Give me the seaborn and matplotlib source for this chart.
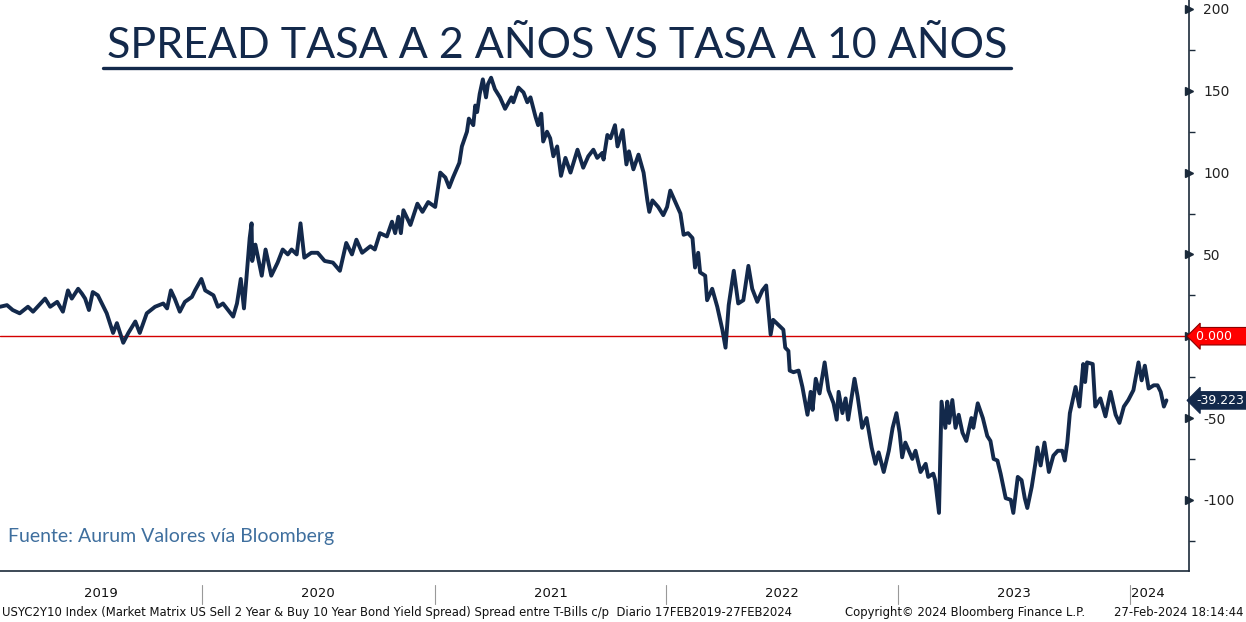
import pandas as pd
import numpy as np
import matplotlib.pyplot as plt
import matplotlib.dates as mdates
import matplotlib.transforms as mtransforms
from matplotlib.lines import Line2D
import seaborn as sns

# Datos (spread 10a - 2a, puntos basicos)
dates = [
    "2019-02-17", "2019-02-28", "2019-03-09", "2019-03-20", "2019-04-02", "2019-04-10", "2019-04-29",
    "2019-05-07", "2019-05-18", "2019-05-27", "2019-06-04", "2019-06-10", "2019-06-20", "2019-06-26",
    "2019-07-01", "2019-07-07", "2019-07-13", "2019-07-21", "2019-08-04", "2019-08-14", "2019-08-20",
    "2019-08-30", "2019-09-07", "2019-09-18", "2019-09-25", "2019-10-06", "2019-10-19", "2019-11-01",
    "2019-11-07", "2019-11-13", "2019-11-19", "2019-11-27", "2019-12-05", "2019-12-16", "2019-12-21",
    "2019-12-31", "2020-01-06", "2020-01-19", "2020-01-26", "2020-02-03", "2020-02-19", "2020-02-25",
    "2020-03-02", "2020-03-07", "2020-03-11", "2020-03-13", "2020-03-16", "2020-03-19", "2020-03-20",
    "2020-03-25", "2020-04-04", "2020-04-10", "2020-04-19", "2020-04-29", "2020-05-07", "2020-05-15",
    "2020-05-21", "2020-05-29", "2020-06-04", "2020-06-10", "2020-06-21", "2020-07-01", "2020-07-12",
    "2020-07-25", "2020-08-05", "2020-08-15", "2020-08-24", "2020-08-31", "2020-09-09", "2020-09-22",
    "2020-09-29", "2020-10-07", "2020-10-18", "2020-10-26", "2020-10-31", "2020-11-05", "2020-11-09",
    "2020-11-13", "2020-11-24", "2020-12-05", "2020-12-13", "2020-12-22", "2021-01-02", "2021-01-10",
    "2021-01-18", "2021-01-24", "2021-01-30", "2021-02-09", "2021-02-13", "2021-02-21", "2021-02-24",
    "2021-03-03", "2021-03-06", "2021-03-09", "2021-03-13", "2021-03-18", "2021-03-23", "2021-03-26",
    "2021-03-31", "2021-04-06", "2021-04-14", "2021-04-22", "2021-05-02", "2021-05-05", "2021-05-13",
    "2021-05-21", "2021-05-27", "2021-06-01", "2021-06-09", "2021-06-13", "2021-06-18", "2021-06-21",
    "2021-06-27", "2021-07-02", "2021-07-07", "2021-07-13", "2021-07-19", "2021-07-26", "2021-08-03",
    "2021-08-14", "2021-08-23", "2021-08-31", "2021-09-08", "2021-09-14", "2021-09-22", "2021-09-24",
    "2021-09-30", "2021-10-05", "2021-10-12", "2021-10-16", "2021-10-24", "2021-10-30", "2021-11-03",
    "2021-11-10", "2021-11-18", "2021-11-26", "2021-12-02", "2021-12-05", "2021-12-10", "2021-12-19",
    "2021-12-27", "2022-01-02", "2022-01-07", "2022-01-15", "2022-01-23", "2022-01-28", "2022-02-04",
    "2022-02-11", "2022-02-15", "2022-02-20", "2022-02-23", "2022-03-03", "2022-03-06", "2022-03-14",
    "2022-03-22", "2022-03-30", "2022-04-04", "2022-04-09", "2022-04-17", "2022-04-24", "2022-05-02",
    "2022-05-10", "2022-05-16", "2022-05-24", "2022-06-01", "2022-06-07", "2022-06-14", "2022-06-18",
    "2022-06-26", "2022-07-04", "2022-07-07", "2022-07-12", "2022-07-14", "2022-07-20", "2022-07-28",
    "2022-08-03", "2022-08-11", "2022-08-16", "2022-08-19", "2022-08-24", "2022-08-30", "2022-09-07",
    "2022-09-13", "2022-09-21", "2022-09-26", "2022-09-29", "2022-10-05", "2022-10-10", "2022-10-14",
    "2022-10-24", "2022-10-29", "2022-11-05", "2022-11-12", "2022-11-20", "2022-11-26", "2022-12-01",
    "2022-12-09", "2022-12-17", "2022-12-23", "2022-12-29", "2023-01-03", "2023-01-07", "2023-01-12",
    "2023-01-23", "2023-01-28", "2023-02-05", "2023-02-13", "2023-02-17", "2023-02-25", "2023-02-28",
    "2023-03-06", "2023-03-10", "2023-03-16", "2023-03-19", "2023-03-22", "2023-03-27", "2023-04-01",
    "2023-04-06", "2023-04-12", "2023-04-18", "2023-04-26", "2023-04-29", "2023-05-06", "2023-05-14",
    "2023-05-21", "2023-05-26", "2023-05-31", "2023-06-06", "2023-06-11", "2023-06-19", "2023-06-27",
    "2023-07-01", "2023-07-08", "2023-07-14", "2023-07-19", "2023-07-23", "2023-07-30", "2023-08-05",
    "2023-08-08", "2023-08-13", "2023-08-19", "2023-08-26", "2023-09-02", "2023-09-09", "2023-09-16",
    "2023-09-20", "2023-09-24", "2023-09-28", "2023-10-07", "2023-10-13", "2023-10-19", "2023-10-22",
    "2023-10-25", "2023-11-03", "2023-11-07", "2023-11-15", "2023-11-23", "2023-12-01", "2023-12-09",
    "2023-12-15", "2023-12-22", "2023-12-29", "2024-01-06", "2024-01-14", "2024-01-19", "2024-01-24",
    "2024-01-30", "2024-02-07", "2024-02-13", "2024-02-18", "2024-02-23", "2024-02-27",
]
spread = [
    18, 19, 16, 14, 18, 15, 23,
    18, 21, 15, 28, 23, 29, 26,
    23, 16, 27, 25, 14, 2, 8,
    -4, 2, 9, 2, 14, 18, 20,
    17, 28, 23, 15, 21, 24, 28,
    35, 28, 25, 18, 20, 12, 20,
    35, 17, 36, 46, 60, 69, 46,
    56, 37, 53, 37, 45, 53, 50,
    53, 50, 69, 48, 51, 51, 46,
    45, 40, 57, 50, 59, 51, 55,
    53, 63, 61, 70, 63, 73, 63,
    77, 68, 81, 76, 82, 79, 100,
    97, 91, 97, 106, 116, 125, 133,
    129, 141, 137, 148, 157, 146, 154,
    158, 151, 146, 139, 146, 143, 152,
    149, 143, 146, 134, 129, 136, 119,
    125, 121, 110, 116, 98, 109, 100,
    114, 103, 110, 114, 109, 112, 108,
    123, 121, 129, 116, 126, 105, 113,
    102, 111, 100, 83, 76, 83, 79,
    74, 79, 89, 82, 75, 62, 63,
    60, 42, 51, 39, 37, 22, 29,
    18, 4, -7, 19, 40, 20, 22,
    43, 29, 21, 28, 31, 1, 10,
    7, 4, -7, -9, -21, -22, -21,
    -31, -48, -34, -45, -26, -35, -16,
    -33, -41, -51, -34, -47, -38, -51,
    -26, -37, -56, -50, -68, -78, -71,
    -83, -70, -56, -47, -59, -74, -65,
    -75, -70, -83, -78, -86, -84, -88,
    -108, -40, -56, -40, -53, -39, -56,
    -48, -59, -64, -50, -56, -41, -50,
    -61, -64, -75, -76, -84, -99, -100,
    -108, -86, -88, -99, -105, -92, -77,
    -68, -79, -65, -83, -73, -70, -70,
    -76, -65, -47, -31, -43, -17, -28,
    -16, -17, -43, -38, -49, -34, -48,
    -53, -43, -39, -33, -16, -27, -18,
    -32, -30, -30, -34, -43, -39.223,
]
last_value = -39.223
y_major = [-100, -50, 0, 50, 100, 150, 200]
y_labels = ['-100', '-50', '', '50', '100', '150', '200']  # 0 is hidden by the red tag
y_minor = [-125, -75, -25, 25, 75, 125, 175]
years = [2019, 2020, 2021, 2022, 2023, 2024]

navy = '#13294b'
df = pd.DataFrame({'fecha': pd.to_datetime(dates), 'spread': spread})

sns.set_style('white')
plt.rcParams['font.family'] = ['DejaVu Sans']

fig = plt.figure(figsize=(12.46, 6.22), dpi=100)
ax = fig.add_axes([0, 0.0820, 0.9545, 0.918])

sns.lineplot(data=df, x='fecha', y='spread', ax=ax, color=navy, linewidth=2.8)
ax.axhline(0, color='#d40000', linewidth=1, zorder=1)

x_start, x_end = pd.Timestamp('2019-02-17'), pd.Timestamp('2024-04-03')
ax.set_xlim(x_start, x_end)
ax.set_ylim(-143.5, 205.5)
ax.set_xlabel('')
ax.set_ylabel('')

# y axis on the right
for s in ['left', 'top']:
    ax.spines[s].set_visible(False)
for s in ['right', 'bottom']:
    ax.spines[s].set_color('#1b2a3a')
    ax.spines[s].set_linewidth(1.2)
ax.yaxis.tick_right()
ax.set_yticks(y_major)
ax.set_yticklabels(y_labels)
ax.set_yticks(y_minor, minor=True)
ax.tick_params(axis='y', which='major', direction='out', length=0, pad=10,
               labelsize=10, labelcolor='#222222')
ax.tick_params(axis='y', which='minor', direction='out', length=4, width=1, color='#1b2a3a')
trans_y = mtransforms.blended_transform_factory(ax.transAxes, ax.transData)
ax.plot([1.0] * len(y_major), y_major, marker='>', markersize=6, color='#1b2a3a',
        linestyle='none', transform=trans_y, clip_on=False)

# x axis: monthly ticks, year labels between separators
ax.xaxis.set_major_locator(mdates.MonthLocator())
ax.xaxis.set_major_formatter(plt.NullFormatter())
ax.tick_params(axis='x', which='major', direction='out', length=5, width=1, color='#1b2a3a')
trans_x = mtransforms.blended_transform_factory(ax.transData, ax.transAxes)
data_end = df['fecha'].iloc[-1]
for yr in years:
    a = max(pd.Timestamp(f'{yr}-01-01'), x_start)
    b = min(pd.Timestamp(f'{yr + 1}-01-01'), data_end)
    mid = a + (b - a) / 2
    ax.text(mid, -0.040, str(yr), transform=trans_x, ha='center', va='center',
            fontsize=9.5, color='#111111')
    if yr > years[0]:
        sep = pd.Timestamp(f'{yr}-01-01')
        ax.plot([sep, sep], [-0.025, -0.058], transform=trans_x, color='#999999',
                linewidth=0.8, clip_on=False)

# value tags on the right axis
ax.text(1.006, 0, '0.000    ', transform=trans_y, ha='left', va='center', fontsize=9,
        color='white', bbox=dict(boxstyle='larrow,pad=0.18', fc='#ff0000', ec='#8a0000', lw=0.8))
ax.text(1.006, last_value, '-39.223', transform=trans_y, ha='left', va='center', fontsize=9,
        color='white', bbox=dict(boxstyle='larrow,pad=0.18', fc=navy, ec=navy, lw=0.8))

# title with underline
title = fig.text(0.447, 0.926, 'SPREAD TASA A 2 AÑOS VS TASA A 10 AÑOS', ha='center', va='center',
                 fontsize=31, color=navy, family=['Lato', 'DejaVu Sans'])
fig.canvas.draw()
bb = title.get_window_extent().transformed(fig.transFigure.inverted())
fig.add_artist(Line2D([bb.x0 - 0.003, bb.x1 + 0.003], [bb.y0 - 0.004, bb.y0 - 0.004],
                      transform=fig.transFigure, color=navy, linewidth=2.4))

fig.text(0.0065, 0.137, 'Fuente: Aurum Valores vía Bloomberg', ha='left', va='center',
         fontsize=14, color='#3f6f9e', family=['Lato', 'DejaVu Sans'])

# footer
fig.text(0.0015, 0.016, 'USYC2Y10 Index (Market Matrix US Sell 2 Year & Buy 10 Year Bond Yield Spread) '
         'Spread entre T-Bills c/p  Diario 17FEB2019-27FEB2024', ha='left', va='center',
         fontsize=8.4, color='#111111')
fig.text(0.678, 0.016, 'Copyright© 2024 Bloomberg Finance L.P.', ha='left', va='center',
         fontsize=8.4, color='#111111')
fig.text(0.998, 0.016, '27-Feb-2024 18:14:44', ha='right', va='center', fontsize=8.4, color='#111111')

fig.savefig('out.png', dpi=100)
